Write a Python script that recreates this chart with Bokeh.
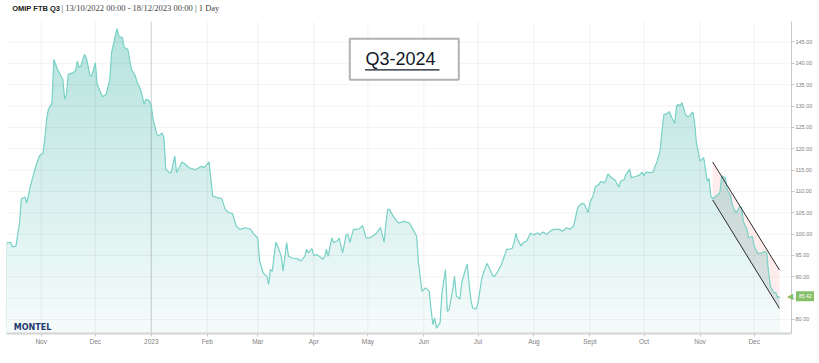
import numpy as np
import pandas as pd
from bokeh.plotting import figure
from bokeh.models import (Range1d, FixedTicker, CustomJSTickFormatter, BoxAnnotation, Label,
                          ColumnDataSource)
from bokeh.core.properties import value
from bokeh.embed import file_html
from bokeh.resources import INLINE

# ---------------- texts ----------------
title_bold = "OMIP FTB Q3"
title_rest = "| 13/10/2022 00:00 - 18/12/2023 00:00 | 1 Day"
box_text = "Q3-2024"
logo_text = "MONTEL"
last_value_text = "85.42"
month_names = ["Jan", "Feb", "Mar", "Apr", "May", "Jun", "Jul", "Aug", "Sept", "Oct", "Nov", "Dec"]
y_ticks = [80, 85, 90, 95, 100, 105, 110, 115, 120, 125, 130, 135, 140, 145]
y_tick_labels = ["80.00", "85.00", "90.00", "95.00", "100.00", "105.00", "110.00", "115.00",
                 "120.00", "125.00", "130.00", "135.00", "140.00", "145.00"]

# ---------------- data ----------------
dates = [
    "2022-10-13", "2022-10-15", "2022-10-16", "2022-10-18", "2022-10-20", "2022-10-21", "2022-10-23",
    "2022-10-24", "2022-10-26", "2022-10-27", "2022-10-29", "2022-10-31",
    "2022-11-02", "2022-11-03", "2022-11-04", "2022-11-05", "2022-11-07", "2022-11-08", "2022-11-10",
    "2022-11-11", "2022-11-13", "2022-11-14", "2022-11-15", "2022-11-16", "2022-11-18", "2022-11-20",
    "2022-11-21", "2022-11-22", "2022-11-23", "2022-11-25", "2022-11-26", "2022-11-28", "2022-11-29",
    "2022-12-01", "2022-12-02", "2022-12-04", "2022-12-05", "2022-12-07", "2022-12-09", "2022-12-10",
    "2022-12-12", "2022-12-13", "2022-12-14", "2022-12-16", "2022-12-17", "2022-12-19", "2022-12-20",
    "2022-12-21", "2022-12-23", "2022-12-24", "2022-12-26", "2022-12-27", "2022-12-28", "2022-12-29",
    "2022-12-31",
    "2023-01-01", "2023-01-02", "2023-01-04", "2023-01-05", "2023-01-07", "2023-01-08", "2023-01-09",
    "2023-01-11", "2023-01-12", "2023-01-14", "2023-01-15", "2023-01-16", "2023-01-18", "2023-01-20",
    "2023-01-22", "2023-01-24", "2023-01-25", "2023-01-29", "2023-01-30",
    "2023-02-02", "2023-02-04", "2023-02-07", "2023-02-09", "2023-02-11", "2023-02-13", "2023-02-15",
    "2023-02-17", "2023-02-19", "2023-02-22", "2023-02-25", "2023-02-27",
    "2023-03-01", "2023-03-02", "2023-03-04", "2023-03-06", "2023-03-07", "2023-03-08", "2023-03-09",
    "2023-03-11", "2023-03-12", "2023-03-14", "2023-03-15", "2023-03-17", "2023-03-18", "2023-03-20",
    "2023-03-23", "2023-03-25", "2023-03-27", "2023-03-28", "2023-03-29", "2023-03-31",
    "2023-04-01", "2023-04-03", "2023-04-04", "2023-04-06", "2023-04-07", "2023-04-08", "2023-04-09",
    "2023-04-11", "2023-04-12", "2023-04-14", "2023-04-15", "2023-04-17", "2023-04-19", "2023-04-20",
    "2023-04-21", "2023-04-23", "2023-04-25", "2023-04-26", "2023-04-28", "2023-04-30",
    "2023-05-02", "2023-05-05", "2023-05-08", "2023-05-10", "2023-05-11", "2023-05-12", "2023-05-13",
    "2023-05-15", "2023-05-18", "2023-05-21", "2023-05-24", "2023-05-26", "2023-05-28", "2023-05-29",
    "2023-05-31",
    "2023-06-01", "2023-06-02", "2023-06-04", "2023-06-05", "2023-06-06", "2023-06-07", "2023-06-08",
    "2023-06-10", "2023-06-11", "2023-06-13", "2023-06-14", "2023-06-15", "2023-06-17", "2023-06-18",
    "2023-06-19", "2023-06-21", "2023-06-22", "2023-06-24", "2023-06-25", "2023-06-27", "2023-06-28",
    "2023-06-30",
    "2023-07-01", "2023-07-03", "2023-07-04", "2023-07-06", "2023-07-07", "2023-07-09", "2023-07-10",
    "2023-07-12", "2023-07-14", "2023-07-15", "2023-07-17", "2023-07-18", "2023-07-20", "2023-07-21",
    "2023-07-22", "2023-07-23", "2023-07-25", "2023-07-26", "2023-07-28", "2023-07-30",
    "2023-08-01", "2023-08-03", "2023-08-04", "2023-08-06", "2023-08-08", "2023-08-10", "2023-08-12",
    "2023-08-15", "2023-08-17", "2023-08-19", "2023-08-21", "2023-08-23", "2023-08-25", "2023-08-26",
    "2023-08-28", "2023-08-29", "2023-08-31",
    "2023-09-01", "2023-09-03", "2023-09-04", "2023-09-06", "2023-09-07", "2023-09-09", "2023-09-10",
    "2023-09-11", "2023-09-13", "2023-09-15", "2023-09-17", "2023-09-18", "2023-09-20", "2023-09-21",
    "2023-09-23", "2023-09-24", "2023-09-26", "2023-09-28", "2023-09-30",
    "2023-10-01", "2023-10-02", "2023-10-04", "2023-10-06", "2023-10-07", "2023-10-08", "2023-10-10",
    "2023-10-11", "2023-10-12", "2023-10-14", "2023-10-15", "2023-10-16", "2023-10-18", "2023-10-19",
    "2023-10-20", "2023-10-21", "2023-10-22", "2023-10-24", "2023-10-25", "2023-10-26", "2023-10-28",
    "2023-10-29", "2023-10-30", "2023-10-31",
    "2023-11-01", "2023-11-03", "2023-11-04", "2023-11-05", "2023-11-06", "2023-11-07", "2023-11-08",
    "2023-11-10", "2023-11-12", "2023-11-13", "2023-11-15", "2023-11-16", "2023-11-18", "2023-11-19",
    "2023-11-21", "2023-11-23", "2023-11-24", "2023-11-25", "2023-11-27", "2023-11-28", "2023-11-30",
    "2023-12-01", "2023-12-03", "2023-12-05", "2023-12-07", "2023-12-08", "2023-12-09", "2023-12-10",
    "2023-12-12", "2023-12-13", "2023-12-14", "2023-12-15",
]
prices = [
    97.9, 98.1, 97.0, 97.2, 102.6, 108.3, 108.7, 107.3, 111.2, 112.8, 115.9, 118.3,
    119.0, 122.2, 126.9, 129.2, 130.8, 140.9, 138.6, 137.8, 136.2, 131.6, 132.7, 137.4, 137.7, 138.2,
    140.5, 139.0, 139.4, 142.1, 141.3, 137.2, 137.0,
    140.1, 135.1, 133.1, 132.2, 132.7, 136.2, 142.5, 146.4, 148.1, 146.4, 146.0, 143.7, 143.3, 140.9,
    138.6, 137.2, 135.8, 133.9, 132.3, 130.4, 131.6, 131.2,
    130.0, 126.9, 123.4, 123.0, 123.7, 122.6, 115.2, 114.4, 114.4, 118.3, 114.4, 115.2, 116.9, 116.3,
    115.5, 115.3, 115.0, 115.9, 115.5,
    116.9, 108.9, 108.5, 108.3, 105.8, 105.0, 104.8, 101.9, 101.1, 101.5, 101.1, 99.9,
    99.1, 93.7, 90.9, 90.1, 88.2, 91.7, 91.3, 98.1, 97.2, 94.8, 91.3, 98.0, 94.8, 94.4,
    94.2, 93.7, 94.8, 96.4, 95.6, 96.6,
    95.0, 95.2, 94.8, 94.1, 94.7, 96.4, 94.8, 99.1, 98.0, 98.4, 99.1, 95.6, 99.9, 99.9,
    98.0, 101.1, 101.1, 101.2, 102.0, 99.1,
    99.1, 99.9, 101.5, 98.1, 102.6, 105.8, 105.8, 104.2, 102.6, 103.0, 102.6, 101.1, 99.5, 93.3, 86.6,
    87.0, 87.4, 86.6, 82.3, 78.8, 80.4, 78.0, 79.2, 86.2, 91.7, 81.9, 82.3, 87.0, 90.1,
    85.5, 84.8, 88.6, 91.7, 92.9, 84.7, 82.7, 82.5,
    83.9, 89.4, 90.9, 93.1, 92.3, 90.3, 90.0, 91.3, 92.9, 94.1, 96.5, 96.4, 96.7, 98.0,
    100.2, 98.6, 97.2, 98.0, 98.4, 100.2,
    99.8, 100.3, 99.8, 100.5, 99.9, 100.7, 101.1, 101.1, 100.7, 101.5, 101.1, 101.9, 105.8, 106.7,
    107.2, 107.0, 105.0,
    107.3, 109.3, 111.1, 111.6, 112.4, 112.0, 112.8, 114.1, 113.2, 112.6, 111.0, 112.4, 112.8, 114.0,
    115.2, 113.2, 113.5, 113.7, 114.5,
    113.7, 114.5, 114.4, 114.5, 115.8, 116.7, 119.8, 124.5, 128.0, 128.3, 128.7, 127.6, 125.9, 130.0,
    130.4, 130.0, 130.8, 128.0, 127.5, 127.6, 128.6, 126.1, 121.4, 119.4,
    117.1, 117.9, 115.2, 112.4, 113.0, 108.9, 108.3, 108.9, 109.7, 113.6, 113.2, 110.5, 108.9, 106.6,
    105.0, 106.4, 106.2, 103.0, 101.1, 99.1, 99.5,
    97.2, 95.5, 95.5, 96.0, 95.5, 90.9, 87.8, 86.2, 86.3, 85.1, 85.42,
]

# descending channel drawn on the chart
channel_dates = ["2023-11-08", "2023-12-15"]
channel_upper = [116.9, 91.6]
channel_lower = [108.0, 82.6]

# ---------------- layout helpers (reference pixel -> data) ----------------
T0 = pd.Timestamp("2022-10-13")
PX_PER_DAY = 1.805
Y_TOP, Y_BOT = 149.8, 76.72          # plot area top / bottom values
PLOT_TOP_PX, PLOT_BOTTOM_PX = 21, 333
PLOT_LEFT_PX, PLOT_RIGHT_PX = 6, 791
FRAME_W = 814


def px_date(px):
    return T0 + pd.Timedelta(days=(px - 6.4) / PX_PER_DAY)


def ms(ts):
    return pd.Timestamp(ts).value / 1e6


def px_val(py):
    return Y_TOP - (py - PLOT_TOP_PX) * (Y_TOP - Y_BOT) / (PLOT_BOTTOM_PX - PLOT_TOP_PX)


ts = pd.to_datetime(dates)
vals = np.array(prices)
x_left, x_right = ms(px_date(PLOT_LEFT_PX)), ms(px_date(PLOT_RIGHT_PX))

p = figure(x_axis_type="datetime", y_axis_location="right",
           frame_width=FRAME_W, frame_height=PLOT_BOTTOM_PX,
           min_border_left=0, min_border_top=0, min_border_bottom=24, min_border_right=0,
           x_range=Range1d(px_date(0), px_date(FRAME_W)),
           y_range=Range1d(Y_BOT, px_val(0)),
           output_backend="svg", toolbar_location=None)
p.outline_line_color = None
p.background_fill_color = "white"
p.border_fill_color = "white"
p.xgrid.grid_line_color = None
p.ygrid.grid_line_color = None

# gradient area fill (stacked layers, darkest first)
top_c = np.array([180, 226, 221])
bot_c = np.array([247, 252, 252])
levels = np.linspace(Y_TOP, Y_BOT, 41)[:-1]
for hi in levels:
    f = (hi - Y_BOT) / (Y_TOP - Y_BOT)
    c = (bot_c + (top_c - bot_c) * f).round().astype(int)
    col = "#%02x%02x%02x" % tuple(c)
    p.varea(x=ts, y1=Y_BOT, y2=np.minimum(vals, hi), fill_color=col)

# grid lines (faint, drawn over the fill, limited to the plot area)
month_ticks = pd.date_range("2022-11-01", "2023-12-01", freq="MS")
mt = [ms(t) for t in month_ticks]
p.segment(x0=mt, y0=Y_BOT, x1=mt, y1=Y_TOP, line_color="#000000", line_alpha=0.055, line_width=1)
p.segment(x0=x_left, y0=y_ticks, x1=x_right, y1=y_ticks, line_color="#000000", line_alpha=0.05,
          line_width=1)
year_start = [ms("2023-01-01")]
p.segment(x0=year_start, y0=Y_BOT, x1=year_start, y1=Y_TOP, line_color="#000000", line_alpha=0.1,
          line_width=1.5)

# channel fills
ch_t = pd.to_datetime(channel_dates)
mask = (ts >= ch_t[0]) & (ts <= ch_t[1])
cx = ts[mask]
cv = vals[mask]
cx_num = cx.values.astype("int64")
ch_num = ch_t.values.astype("int64")
up_i = np.interp(cx_num, ch_num, channel_upper)
lo_i = np.interp(cx_num, ch_num, channel_lower)
p.varea(x=cx, y1=np.minimum(cv, up_i), y2=up_i, fill_color="#ffd0d0", fill_alpha=0.4)
p.varea(x=cx, y1=lo_i, y2=np.maximum(cv, lo_i), fill_color="#a8a8a8", fill_alpha=0.3)

# price line
p.line(ts, vals, line_color="#7ad2c7", line_width=1.2)

# channel lines
p.line(ch_t, channel_upper, line_color="#2a2a2a", line_width=1)
p.line(ch_t, channel_lower, line_color="#2a2a2a", line_width=1)

# ---------------- axes ----------------
p.xaxis.ticker = FixedTicker(ticks=mt)
p.xaxis.formatter = CustomJSTickFormatter(args=dict(names=month_names), code="""
    const d = new Date(tick);
    const m = d.getUTCMonth();
    return m == 0 ? String(d.getUTCFullYear()) : names[m];
""")
p.xaxis.bounds = (x_left, x_right)
p.xaxis.axis_line_color = "#d4d4d4"
p.xaxis.axis_line_width = 2
p.xaxis.major_tick_line_color = "#cccccc"
p.xaxis.major_tick_out = 3
p.xaxis.major_tick_in = 0
p.xaxis.minor_tick_line_color = None
p.xaxis.major_label_standoff = 1
p.xaxis.major_label_text_font = "Liberation Sans"
p.xaxis.major_label_text_font_size = "6.5px"
p.xaxis.major_label_text_color = "#808080"

# value axis sits at the right edge of the plot area; its labels are drawn next to it
p.yaxis.ticker = FixedTicker(ticks=y_ticks)
p.yaxis.formatter = CustomJSTickFormatter(code="return ''")
p.yaxis.fixed_location = x_right
p.yaxis.bounds = (Y_BOT, Y_TOP)
p.yaxis.axis_line_color = "#c8c8c8"
p.yaxis.major_tick_line_color = "#c8c8c8"
p.yaxis.major_tick_out = 3
p.yaxis.major_tick_in = 0
p.yaxis.minor_tick_line_color = None
p.yaxis.major_label_standoff = 0

ylab = ColumnDataSource(dict(x=[x_right] * len(y_ticks), y=y_ticks, text=y_tick_labels))
p.text(x="x", y="y", text="text", source=ylab, x_offset=4, text_baseline="middle",
       text_align="left", text_font=value("Liberation Sans"), text_font_size="5.5px",
       text_color="#808080")

# ---------------- annotations ----------------
p.add_layout(Label(x=ms(px_date(11.7)), y=px_val(7.5), text=title_bold,
                   text_font="Liberation Sans", text_font_style="bold", text_font_size="7.5px",
                   text_color="#222222", text_baseline="middle", text_align="left"))
p.add_layout(Label(x=ms(px_date(61)), y=px_val(7.5), text=title_rest,
                   text_font="Liberation Serif", text_font_size="8.5px", text_color="#444444",
                   text_baseline="middle", text_align="left"))

p.add_layout(BoxAnnotation(left=ms(px_date(349.3)), right=ms(px_date(458.3)),
                           top=px_val(38.3), bottom=px_val(79.3),
                           fill_color="white", fill_alpha=1.0, line_color="black", line_width=2))
p.add_layout(Label(x=ms(px_date(365)), y=px_val(58), text=box_text, text_font="Liberation Sans",
                   text_font_size="18px", text_color="#111827", text_baseline="alphabetic",
                   text_align="left"))
p.add_layout(BoxAnnotation(left=ms(px_date(364.5)), right=ms(px_date(439)),
                           top=px_val(68.8), bottom=px_val(69.9),
                           fill_color="#111827", fill_alpha=1.0, line_color=None))

p.add_layout(Label(x=ms(px_date(13.3)), y=px_val(327), text=logo_text, text_font="DejaVu Sans",
                   text_font_style="bold", text_font_size="8px", text_color="#1e3a6e",
                   text_baseline="alphabetic", text_align="left"))

# last-value tag on the value axis
p.add_layout(Label(x=ms(px_date(786.5)), y=prices[-1], text="\u25c0",
                   text_font="DejaVu Sans", text_font_size="8px", text_color="#86c06a",
                   text_baseline="middle", text_align="left"))
p.add_layout(Label(x=ms(px_date(795.5)), y=prices[-1], text=last_value_text,
                   text_font="Liberation Sans", text_font_size="5px", text_color="white",
                   text_baseline="middle", text_align="left",
                   background_fill_color="#86c06a", padding=3))

open("out.html", "w").write(file_html(p, INLINE))
